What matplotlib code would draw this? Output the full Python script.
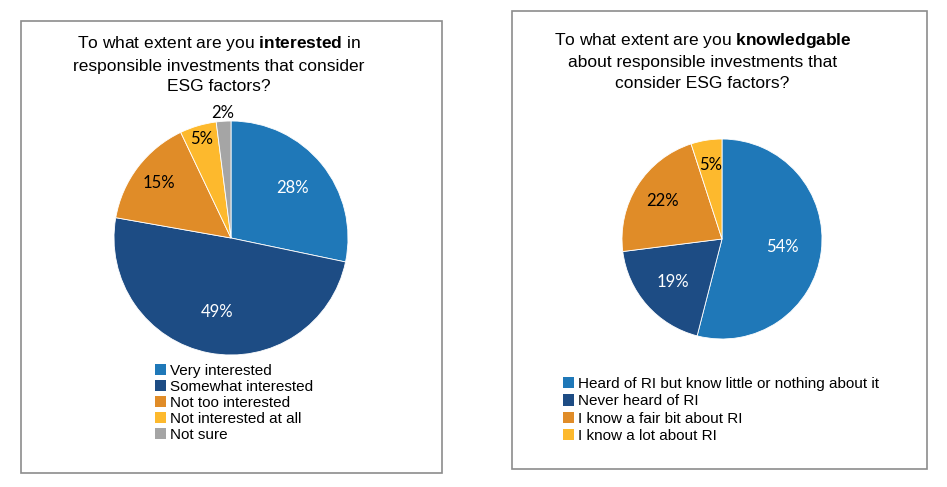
import matplotlib
matplotlib.use("Agg")
import matplotlib.pyplot as plt
from matplotlib.patches import Rectangle, Patch
import numpy as np

# left chart: interest
int_labels = ["Very interested", "Somewhat interested", "Not too interested",
              "Not interested at all", "Not sure"]
int_values = [28, 49, 15, 5, 2]
int_colors = ["#1F78B8", "#1D4C84", "#E08C28", "#FDB92D", "#A5A5A5"]
int_txt = ["white", "white", "black", "black", "black"]
int_lblr = [0.68, 0.64, 0.77, 0.88, 1.07]

# right chart: knowledge
kn_labels = ["Heard of RI but know little or nothing about it", "Never heard of RI",
             "I know a fair bit about RI", "I know a lot about RI"]
kn_values = [54, 19, 22, 5]
kn_colors = ["#1F78B8", "#1D4C84", "#E08C28", "#FDB92D"]
kn_txt = ["white", "white", "black", "black"]
kn_lblr = [0.61, 0.65, 0.70, 0.75]

plt.rcParams["font.family"] = ["Liberation Sans", "DejaVu Sans"]
plt.rcParams["mathtext.fontset"] = "custom"
plt.rcParams["mathtext.rm"] = "Liberation Sans"
plt.rcParams["mathtext.bf"] = "Liberation Sans:bold"

W, H = 947, 487
fig = plt.figure(figsize=(W / 100, H / 100), dpi=100)


def px(x, y):
    return x / W, 1 - y / H


def panel(box, title, tpos, center, r, values, colors, txtc, lblr, labels,
          legpos, lspace):
    x0, y0, x1, y1 = box
    fig.patches.append(Rectangle(px(x0, y1), (x1 - x0) / W, (y1 - y0) / H,
                                 transform=fig.transFigure, fill=False,
                                 edgecolor="#8C8C8C", lw=1.2))
    tx, ty = px(*tpos)
    fig.text(tx, ty, title, ha="center", va="center", fontsize=12.5,
             linespacing=1.45)
    cx, cy = center
    ax = fig.add_axes([(cx - r) / W, (H - cy - r) / H, 2 * r / W, 2 * r / H])
    wedges, _ = ax.pie(values, colors=colors, startangle=90, counterclock=False,
                       wedgeprops=dict(linewidth=0.6, edgecolor="white"))
    ax.set_xlim(-1, 1)
    ax.set_ylim(-1, 1)
    ax.set_aspect("equal")
    ax.axis("off")
    for w, v, c, f in zip(wedges, values, txtc, lblr):
        a = np.deg2rad((w.theta1 + w.theta2) / 2)
        ax.text(f * np.cos(a), f * np.sin(a), f"{v}%", ha="center", va="center",
                color=c, fontsize=12, family=["Lato", "DejaVu Sans"])
    handles = [Patch(facecolor=c, edgecolor="none") for c in colors]
    lx, ly = px(*legpos)
    fig.legend(handles, labels, loc="upper left", bbox_to_anchor=(lx, ly),
               frameon=False, fontsize=11, handlelength=0.75, handleheight=0.75,
               handletextpad=0.2, labelspacing=lspace, borderpad=0,
               borderaxespad=0)


panel((21, 21, 442, 473),
      "To what extent are you $\\bf{interested}$ in\nresponsible investments that consider\nESG factors?",
      (218.5, 64), (231, 238), 117, int_values, int_colors, int_txt, int_lblr,
      int_labels, (155, 364), 0.13)

panel((512, 11, 927, 469),
      "To what extent are you $\\bf{knowledgable}$\nabout responsible investments that\nconsider ESG factors?",
      (702.5, 61), (722, 239), 100, kn_values, kn_colors, kn_txt, kn_lblr,
      kn_labels, (563, 377), 0.22)

fig.savefig("out.png", dpi=100)
